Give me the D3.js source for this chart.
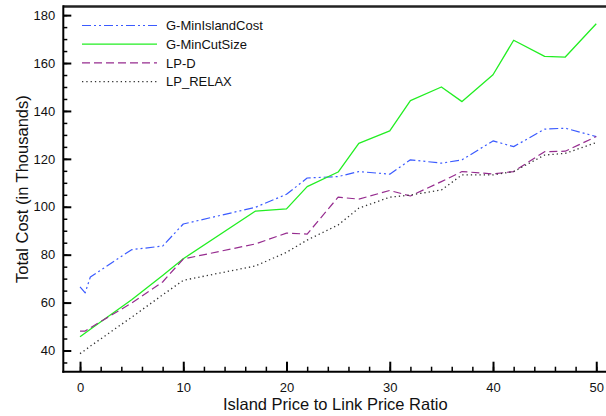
<!DOCTYPE html>
<html>
<head>
<meta charset="utf-8">
<script src="https://cdn.jsdelivr.net/npm/d3@7"></script>
<style>
  html, body { margin: 0; padding: 0; background: #fff; }
  svg { display: block; font-family: "Liberation Sans", Arial, Helvetica, sans-serif; }
</style>
</head>
<body>
<svg id="chart" width="606" height="416"></svg>
<script>
// Island price to link price ratio (x) for every sampled run
const ratios = [0, 0.5, 1, 5, 8, 10, 17, 20, 22, 25, 27, 30, 32, 35, 37, 40, 42, 45, 47, 50];

// Total cost, in thousands, for each method
const gMinIslandCost = [66.6, 64.1, 70.7, 82.1, 83.6, 92.8, 99.8, 105.2, 112.0, 112.6, 114.7, 113.6, 119.6, 118.2, 119.6, 127.5, 125.1, 132.4, 132.8, 129.3];
const gMinCutSize    = [45.7, 47.3, 48.9, 61.2, 71.3, 78.3, 98.2, 99.1, 108.4, 114.5, 126.5, 131.7, 144.3, 150.0, 143.9, 155.1, 169.5, 162.8, 162.5, 176.4];
const lpD            = [48.1, 48.1, 49.5, 59.8, 68.6, 78.2, 84.5, 89.0, 88.6, 104.0, 103.2, 106.8, 104.5, 110.5, 114.7, 113.7, 114.7, 123.0, 123.2, 129.3];
const lpRelax        = [38.7, 40.2, 41.8, 53.9, 63.2, 69.3, 75.3, 81.0, 86.1, 92.4, 99.4, 104.0, 104.9, 107.0, 113.3, 113.3, 114.7, 121.6, 122.3, 126.8];

const seriesNames = ["G-MinIslandCost", "G-MinCutSize", "LP-D", "LP_RELAX"];

// Tick values
const xMajorTicks = [0, 10, 20, 30, 40, 50];
const xMinorTicks = d3.range(0, 53, 2);
const yMajorTicks = [40, 60, 80, 100, 120, 140, 160, 180];
const yMinorTicks = d3.range(35, 185, 5);

const styles = [
  { color: "#3b5bff", dash: "9,3,2,3,2,3", width: 1.2 },
  { color: "#22ee22", dash: null,          width: 1.3 },
  { color: "#962c8f", dash: "8,4",         width: 1.2 },
  { color: "#333333", dash: "1.3,3",       width: 1.3 }
];
const seriesValues = [gMinIslandCost, gMinCutSize, lpD, lpRelax];

const svg = d3.select("#chart");
const plotLeft = 63.3, plotRight = 620, plotTop = 6.5, plotBottom = 371.7;

const x = d3.scaleLinear().domain([-1.62, 52.3]).range([plotLeft, plotRight]);
const y = d3.scaleLinear().domain([31.15, 183.6]).range([plotBottom, plotTop]);

// Series lines
const line = d3.line().x(d => x(d[0])).y(d => y(d[1]));
seriesValues.forEach((vals, i) => {
  const s = styles[i];
  svg.append("path")
    .datum(ratios.map((r, j) => [r, vals[j]]))
    .attr("fill", "none")
    .attr("stroke", s.color)
    .attr("stroke-width", s.width)
    .attr("stroke-dasharray", s.dash)
    .attr("stroke-linejoin", "round")
    .attr("d", line);
});

// Axes with inward ticks
const xMinor = svg.append("g").attr("transform", `translate(0,${plotBottom})`)
  .call(d3.axisBottom(x).tickValues(xMinorTicks).tickSize(-5).tickFormat(""));
const xMajor = svg.append("g").attr("transform", `translate(0,${plotBottom})`)
  .call(d3.axisBottom(x).tickValues(xMajorTicks).tickSize(-10).tickPadding(11).tickFormat(d3.format("d")));
const yMinor = svg.append("g").attr("transform", `translate(${plotLeft},0)`)
  .call(d3.axisLeft(y).tickValues(yMinorTicks).tickSize(-4).tickFormat(""));
const yMajor = svg.append("g").attr("transform", `translate(${plotLeft},0)`)
  .call(d3.axisLeft(y).tickValues(yMajorTicks).tickSize(-8).tickPadding(8).tickFormat(d3.format("d")));

[xMinor, xMajor, yMinor, yMajor].forEach(g => {
  g.select(".domain").remove();
  g.selectAll(".tick line").attr("stroke", "#000").attr("stroke-width", 1.5);
  g.selectAll(".tick text").attr("fill", "#111").style("font-size", "13px")
    .style("font-family", "'Liberation Sans', Arial, sans-serif");
});
xMajor.selectAll(".tick line").attr("stroke-width", 2);
yMajor.selectAll(".tick line").attr("stroke-width", 2);

// Frame
svg.append("line").attr("x1", plotLeft).attr("x2", 606).attr("y1", plotTop).attr("y2", plotTop)
  .attr("stroke", "#222").attr("stroke-width", 2.5);
svg.append("line").attr("x1", plotLeft).attr("x2", plotLeft).attr("y1", plotTop - 1.2).attr("y2", plotBottom + 1)
  .attr("stroke", "#000").attr("stroke-width", 2);
svg.append("line").attr("x1", plotLeft - 1).attr("x2", 606).attr("y1", plotBottom).attr("y2", plotBottom)
  .attr("stroke", "#000").attr("stroke-width", 2);

// Axis titles
svg.append("text")
  .attr("x", 335.3).attr("y", 410)
  .attr("text-anchor", "middle")
  .style("font-size", "16.5px").attr("fill", "#111")
  .text("Island Price to Link Price Ratio");
svg.append("text")
  .attr("transform", `translate(28,${(plotTop + plotBottom) / 2}) rotate(-90)`)
  .attr("text-anchor", "middle")
  .style("font-size", "16.5px").attr("fill", "#111")
  .text("Total Cost (in Thousands)");

// Legend
const legend = svg.append("g");
seriesNames.forEach((name, i) => {
  const ly = 25.5 + i * 18.7;
  const s = styles[i];
  legend.append("line")
    .attr("x1", 82).attr("x2", 157).attr("y1", ly).attr("y2", ly)
    .attr("stroke", s.color).attr("stroke-width", s.width)
    .attr("stroke-dasharray", s.dash);
  legend.append("text")
    .attr("x", 166).attr("y", ly + 4.6)
    .style("font-size", "13px").attr("fill", "#111")
    .text(name);
});
</script>
</body>
</html>
